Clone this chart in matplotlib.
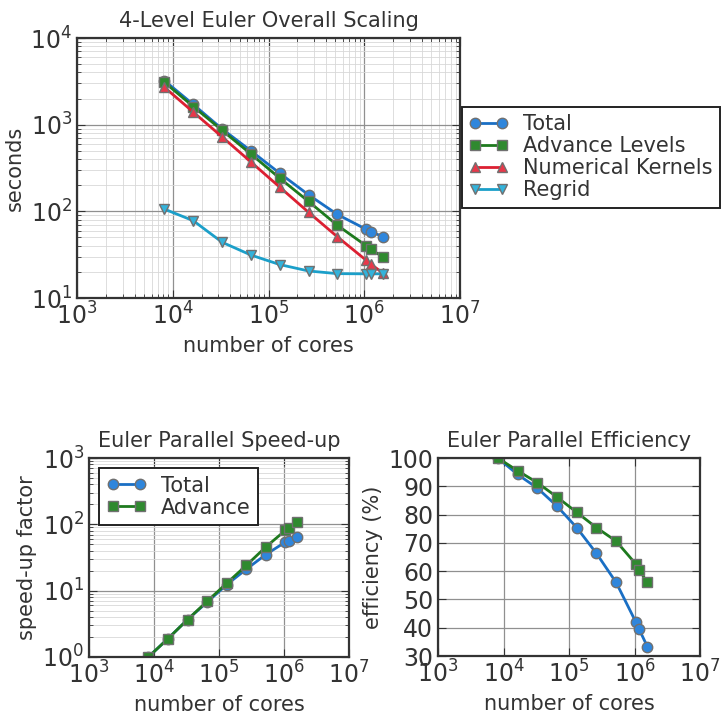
import numpy as np
import matplotlib
matplotlib.use("Agg")
import matplotlib.pyplot as plt

cores = [8192, 16384, 32768, 65536, 131072, 262144, 524288, 1048576, 1179648, 1572864]

t_total = [3220, 1710, 892, 499, 275, 155, 92, 62, 58, 51]
t_advance = [3080, 1620, 861, 458, 241, 130, 69, 40, 36.4, 29.6]
t_kernels = [2700, 1397, 723, 371, 190, 97.5, 50.8, 27.2, 24.5, 19.3]
t_regrid = [106, 78, 44, 31.3, 24.3, 20.5, 19.1, 19, 19, 19]

sp_total = [1, 1.89, 3.66, 6.7, 12.3, 21, 35, 54, 57, 65]
sp_advance = [1, 1.89, 3.66, 6.9, 12.9, 24, 45.5, 81, 89, 108]

eff_total = [100, 94.2, 89.4, 83, 75.4, 66.3, 56, 42, 39.4, 33.3]
eff_advance = [100, 95.5, 91.3, 86.2, 80.8, 75.4, 70.6, 62.5, 60.4, 56]

xticks = [1e3, 1e4, 1e5, 1e6, 1e7]

BLUE = '#1a6fc4'
BLUE_F = '#2f86dc'
GREEN = '#1e7a1e'
GREEN_F = '#2f8a2f'
RED = '#dc2032'
RED_F = '#e8384a'
CYAN = '#1b9fc9'
CYAN_F = '#33b3db'
EDGE = '#707070'

TitleSize = 15
LabelSize = 15
TickSize = 17
LegSize = 15
MS = 7.5

plt.rcParams['font.family'] = 'DejaVu Sans'
plt.rcParams['text.color'] = '#333333'
plt.rcParams['axes.labelcolor'] = '#333333'
plt.rcParams['xtick.color'] = '#333333'
plt.rcParams['ytick.color'] = '#333333'
plt.rcParams['legend.numpoints'] = 2

fig = plt.figure(figsize=(7.22, 7.2), dpi=100)


def style(ax):
    ax.set_xscale('log')
    ax.set_xlim(1e3, 1e7)
    ax.set_xticks(xticks)
    ax.grid(which='major', color='#909090', linewidth=0.9)
    ax.grid(which='minor', color='#d8d8d8', linewidth=0.6)
    ax.set_axisbelow(True)
    ax.tick_params(which='both', direction='in', top=True, right=True, labelsize=TickSize)
    ax.tick_params(which='major', length=6)
    ax.tick_params(which='minor', length=3)
    for s in ax.spines.values():
        s.set_linewidth(1.6)
        s.set_color('#333333')


def legend(ax, **kw):
    leg = ax.legend(fontsize=LegSize, frameon=True, fancybox=False, edgecolor='#222222',
                    handlelength=1.9, borderpad=0.35, labelspacing=0.1,
                    handletextpad=0.7, framealpha=1, **kw)
    leg.get_frame().set_linewidth(1.4)


# top: overall scaling
ax = fig.add_axes([77/722, 1-298/720, 383/722, 260/720])
ax.plot(cores, t_total, '-o', color=BLUE, mfc=BLUE_F, mec=EDGE, ms=MS, lw=2, label='Total')
ax.plot(cores, t_advance, '-s', color=GREEN, mfc=GREEN_F, mec=EDGE, ms=MS, lw=2, label='Advance Levels')
ax.plot(cores, t_kernels, '-^', color=RED, mfc=RED_F, mec=EDGE, ms=MS, lw=2, label='Numerical Kernels')
ax.plot(cores, t_regrid, '-v', color=CYAN, mfc=CYAN_F, mec=EDGE, ms=MS, lw=2, label='Regrid')
ax.set_yscale('log')
style(ax)
ax.set_ylim(1e1, 1e4)
ax.set_title('4-Level Euler Overall Scaling', fontsize=TitleSize, pad=8)
ax.set_xlabel('number of cores', fontsize=LabelSize)
ax.set_ylabel('seconds', fontsize=LabelSize)
legend(ax, loc='upper left', bbox_to_anchor=(1.004, 0.735), borderaxespad=0)

# bottom left: speed-up
ax = fig.add_axes([89/722, 1-657/720, 260/722, 199/720])
ax.plot(cores, sp_total, '-o', color=BLUE, mfc=BLUE_F, mec=EDGE, ms=MS, lw=2, label='Total')
ax.plot(cores, sp_advance, '-s', color=GREEN, mfc=GREEN_F, mec=EDGE, ms=MS, lw=2, label='Advance')
ax.set_yscale('log')
style(ax)
ax.set_ylim(1e0, 1e3)
ax.set_title('Euler Parallel Speed-up', fontsize=TitleSize, pad=8)
ax.set_xlabel('number of cores', fontsize=LabelSize)
ax.set_ylabel('speed-up factor', fontsize=LabelSize)
legend(ax, loc='upper left')

# bottom right: efficiency
ax = fig.add_axes([438/722, 1-656/720, 262/722, 198/720])
ax.plot(cores, eff_total, '-o', color=BLUE, mfc=BLUE_F, mec=EDGE, ms=MS, lw=2)
ax.plot(cores, eff_advance, '-s', color=GREEN, mfc=GREEN_F, mec=EDGE, ms=MS, lw=2)
style(ax)
ax.set_ylim(30, 100)
ax.set_yticks(np.arange(30, 101, 10))
ax.tick_params(axis='y', which='minor', left=False, right=False)
ax.set_title('Euler Parallel Efficiency', fontsize=TitleSize, pad=8)
ax.set_xlabel('number of cores', fontsize=LabelSize)
ax.set_ylabel('efficiency (%)', fontsize=LabelSize)

fig.savefig('out.png', dpi=100)
